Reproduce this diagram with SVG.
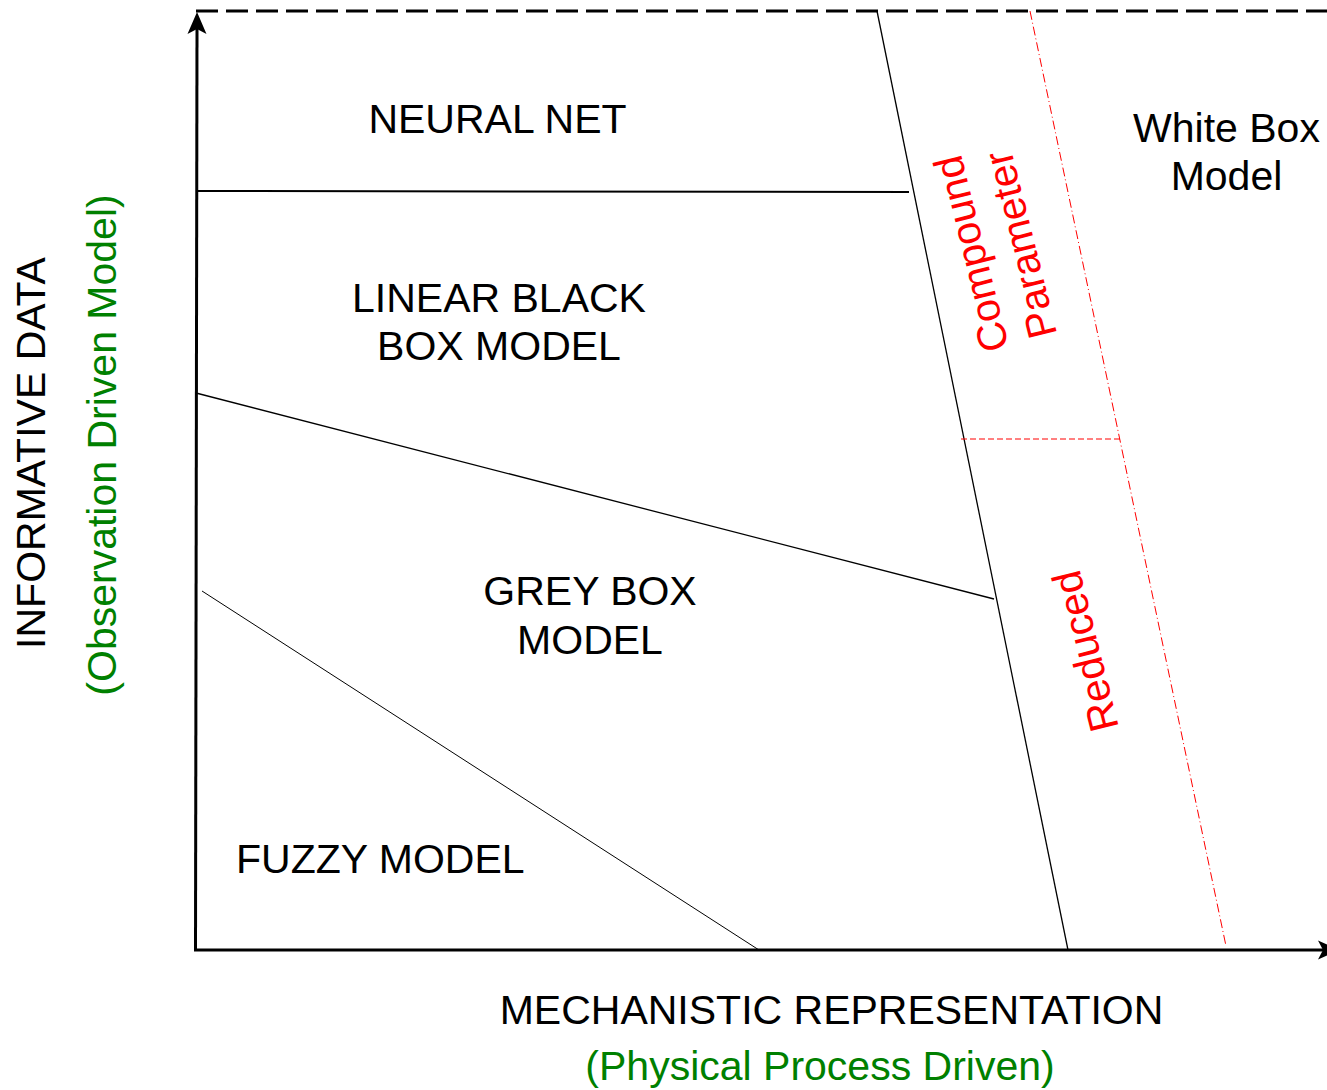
<svg xmlns="http://www.w3.org/2000/svg" width="1327" height="1090" viewBox="0 0 1327 1090">
<defs>
<marker id="arr" markerUnits="userSpaceOnUse" markerWidth="24" markerHeight="22" viewBox="0 0 22 22" refX="5" refY="11" orient="auto" overflow="visible">
<path d="M0,1.5 L22,11 L0,20.5 L5,11 z" fill="#000"/>
</marker>
</defs>
<style>
.t{font-family:"Liberation Sans",Arial,sans-serif;font-size:41px;fill:#000}
.c{text-anchor:middle}
.g{fill:#008000}
.r{fill:#ff0000}
.ax{stroke:#000;stroke-width:3;fill:none}
.ln{stroke:#000;fill:none}
.rd{stroke:#ff0000;stroke-width:1;fill:none}
</style>
<rect width="1327" height="1090" fill="#fff"/>
<g id="connectors">
<line class="ax" x1="196" y1="11" x2="1327" y2="11" stroke-dasharray="22 8"/>
<line class="ax" x1="195.5" y1="951" x2="197" y2="29" marker-end="url(#arr)"/>
<line class="ax" x1="194" y1="950" x2="1323" y2="950" marker-end="url(#arr)"/>
<line class="ln" x1="196" y1="191" x2="909" y2="192" stroke-width="2"/>
<line class="ln" x1="196" y1="393" x2="994" y2="599" stroke-width="1.3"/>
<line class="ln" x1="202" y1="591" x2="759" y2="950" stroke-width="1"/>
<line class="ln" x1="877" y1="11" x2="1068" y2="950" stroke-width="1.3"/>
<line class="rd" x1="1030" y1="11" x2="1226" y2="946" stroke-dasharray="9 3 1 3"/>
<line class="rd" x1="961" y1="439" x2="1120" y2="439" stroke-dasharray="6 3"/>
</g>
<g id="neural-net"><text class="t c" x="497.5" y="133">NEURAL NET</text></g>
<g id="linear-black-box"><text class="t c" x="499" y="312">LINEAR BLACK</text><text class="t c" x="499" y="360">BOX MODEL</text></g>
<g id="grey-box"><text class="t c" x="590" y="605">GREY BOX</text><text class="t c" x="590" y="654">MODEL</text></g>
<g id="fuzzy-model"><text class="t" x="236" y="873">FUZZY MODEL</text></g>
<g id="white-box"><text class="t c" x="1226.5" y="142">White Box</text><text class="t c" x="1226.5" y="190">Model</text></g>
<g id="compound-parameter">
<text class="t c r" transform="translate(984.9,250.5) rotate(-104)">Compound</text>
<text class="t c r" transform="translate(1034.2,241.4) rotate(-104)">Parameter</text>
</g>
<g id="reduced"><text class="t c r" transform="translate(1099.2,647.8) rotate(-104)">Reduced</text></g>
<g id="y-axis-label">
<text class="t c" transform="translate(45,453) rotate(-90)">INFORMATIVE DATA</text>
<text class="t c g" transform="translate(116,445) rotate(-90)">(Observation Driven Model)</text>
</g>
<g id="x-axis-label">
<text class="t c" x="831.5" y="1024">MECHANISTIC REPRESENTATION</text>
<text class="t c g" x="820" y="1080">(Physical Process Driven)</text>
</g>
</svg>
